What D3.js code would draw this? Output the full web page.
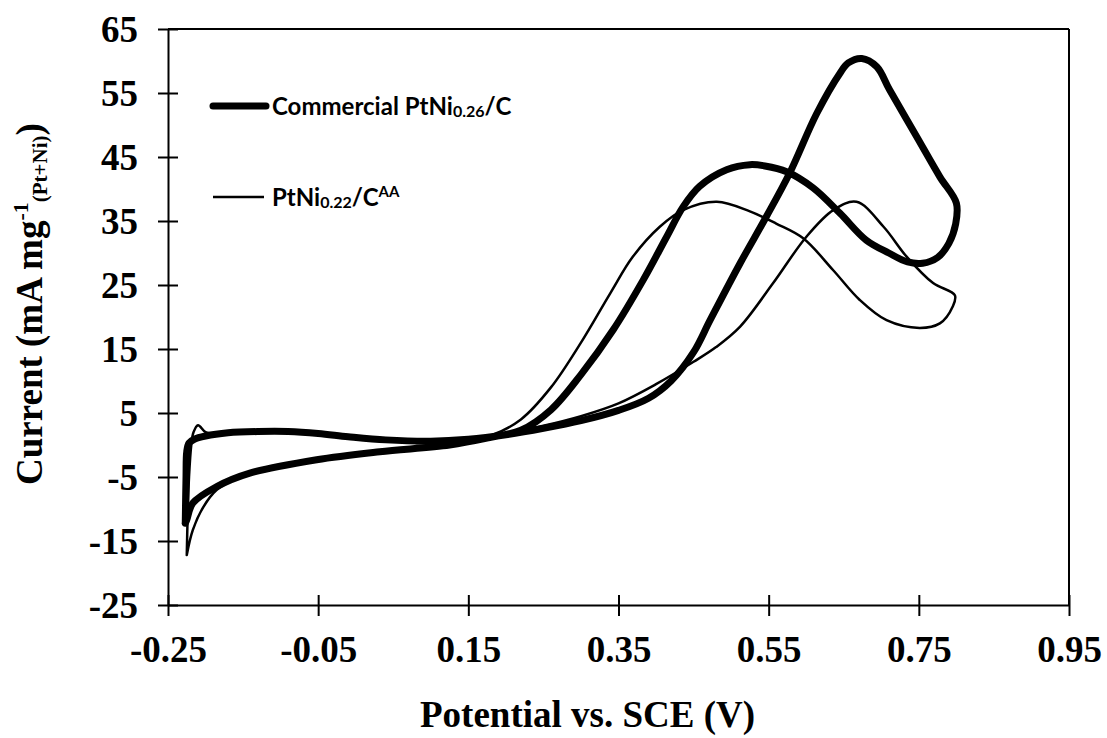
<!DOCTYPE html>
<html>
<head>
<meta charset="utf-8">
<script src="https://cdn.jsdelivr.net/npm/d3@7"></script>
<style>
  html, body { margin: 0; padding: 0; background: #fff; }
  svg { display: block; }
</style>
</head>
<body>
<svg id="chart" width="1107" height="738"></svg>
<script>
// Cyclic voltammograms: potential (V vs. SCE) against mass current (mA mg-1 of Pt+Ni)
const xTicks = [-0.25, -0.05, 0.15, 0.35, 0.55, 0.75, 0.95];
const yTicks = [-25, -15, -5, 5, 15, 25, 35, 45, 55, 65];
const xTickLabels = ["-0.25", "-0.05", "0.15", "0.35", "0.55", "0.75", "0.95"];
const yTickLabels = ["-25", "-15", "-5", "5", "15", "25", "35", "45", "55", "65"];

// Commercial PtNi0.26/C : forward sweep from the lower vertex, then reverse sweep back
const commercialPotential = [
  -0.227, -0.226, -0.225, -0.222, -0.215, -0.200, -0.170, -0.130, -0.090, -0.050,
  -0.010, 0.040, 0.100, 0.150, 0.200, 0.250, 0.300, 0.350, 0.390, 0.420,
  0.450, 0.472, 0.512, 0.547, 0.578, 0.614, 0.645, 0.656, 0.674, 0.694,
  0.711, 0.747, 0.778, 0.800, 0.799, 0.790, 0.775, 0.755, 0.735, 0.710,
  0.680, 0.645, 0.609, 0.574, 0.545, 0.525, 0.494, 0.458, 0.436, 0.414,
  0.383, 0.343, 0.300, 0.260, 0.220, 0.180, 0.125, 0.032, -0.052, -0.141,
  -0.185, -0.217, -0.225, -0.227
];
const commercialCurrent = [
  -12.2, -5.0, -1.0, 0.3, 0.9, 1.4, 1.9, 2.1, 2.1, 1.8,
  1.3, 0.8, 0.6, 0.9, 1.6, 2.6, 3.8, 5.4, 7.3, 10.0,
  14.5, 19.5, 28.4, 35.7, 42.5, 51.8, 58.1, 59.7, 60.4, 59.1,
  55.5, 48.2, 41.9, 37.8, 34.5, 31.5, 29.3, 28.4, 28.6, 30.0,
  32.0, 36.2, 40.2, 42.7, 43.6, 43.8, 43.0, 40.4, 37.2, 32.5,
  25.8, 18.0, 11.0, 5.5, 2.3, 1.2, 0.0, -1.05, -2.3, -4.4,
  -6.5, -9.1, -11.7, -12.2
];

// PtNi0.22/C-AA : same sweep order
const aaPotential = [
  -0.225, -0.224, -0.222, -0.219, -0.216, -0.210, -0.200, -0.190, -0.150, -0.100,
  -0.050, 0.000, 0.050, 0.100, 0.150, 0.200, 0.250, 0.300, 0.350, 0.400,
  0.450, 0.480, 0.512, 0.556, 0.600, 0.636, 0.667, 0.703, 0.734, 0.769,
  0.798, 0.795, 0.778, 0.751, 0.707, 0.671, 0.636, 0.596, 0.560, 0.525,
  0.481, 0.436, 0.405, 0.369, 0.339, 0.300, 0.260, 0.220, 0.180, 0.120,
  0.050, 0.000, -0.050, -0.100, -0.140, -0.163, -0.185, -0.203, -0.217, -0.225
];
const aaCurrent = [
  -17.2, -12.0, -5.0, 0.0, 2.0, 3.1, 2.0, 1.8, 2.0, 2.0,
  1.7, 1.2, 0.8, 0.7, 1.0, 1.8, 3.0, 4.5, 6.5, 9.5,
  13.0, 15.3, 18.5, 25.3, 32.5, 36.7, 38.0, 34.1, 29.4, 25.3,
  23.4, 21.6, 19.0, 18.3, 19.5, 22.7, 27.3, 32.3, 34.6, 36.5,
  38.0, 36.7, 34.1, 29.4, 23.7, 16.0, 9.0, 4.0, 1.5, 0.3,
  -0.8, -1.7, -2.4, -3.3, -4.6, -5.5, -7.0, -9.7, -13.3, -17.2
];

const svg = d3.select("#chart");
const serif = "'Liberation Serif', 'Times New Roman', serif";
const sans = "Lato, 'Open Sans', sans-serif";

const x = d3.scaleLinear().domain([-0.25, 0.95]).range([168, 1069]);
const y = d3.scaleLinear().domain([-25, 65]).range([605, 29]);

// frame: top and right edges
svg.append("line").attr("x1", x(-0.25)).attr("x2", x(0.95))
  .attr("y1", y(65)).attr("y2", y(65)).attr("stroke", "#000").attr("stroke-width", 2);
svg.append("line").attr("x1", x(0.95)).attr("x2", x(0.95))
  .attr("y1", y(65)).attr("y2", y(-25)).attr("stroke", "#000").attr("stroke-width", 2);

// x axis with ticks crossing the line
const xAxis = svg.append("g").attr("transform", `translate(0,${y(-25)})`)
  .call(d3.axisBottom(x).tickValues(xTicks).tickSizeOuter(0)
    .tickFormat((d, i) => xTickLabels[i]));
xAxis.select(".domain").attr("stroke-width", 2);
xAxis.selectAll(".tick line").attr("y1", -10).attr("y2", 11).attr("stroke-width", 2);
xAxis.selectAll(".tick text")
  .attr("y", 57).attr("dy", 0)
  .style("font-family", serif).style("font-weight", "bold").style("font-size", "37px")
  .attr("fill", "#000");

// y axis
const yAxis = svg.append("g").attr("transform", `translate(${x(-0.25)},0)`)
  .call(d3.axisLeft(y).tickValues(yTicks).tickSizeOuter(0)
    .tickFormat((d, i) => yTickLabels[i]));
yAxis.select(".domain").attr("stroke-width", 2);
yAxis.selectAll(".tick line").attr("x1", 10).attr("x2", -10).attr("stroke-width", 2);
yAxis.selectAll(".tick text")
  .attr("x", -30).attr("dy", "0.34em")
  .style("font-family", serif).style("font-weight", "bold").style("font-size", "37px")
  .attr("fill", "#000");

// axis titles
svg.append("text")
  .attr("x", 420).attr("y", 727)
  .style("font-family", serif).style("font-weight", "bold").style("font-size", "37px")
  .text("Potential vs. SCE (V)");

const yTitle = svg.append("text")
  .attr("transform", "translate(42,485) rotate(-90)")
  .style("font-family", serif).style("font-weight", "bold").style("font-size", "37px");
yTitle.append("tspan").text("Current (mA mg");
yTitle.append("tspan").attr("dy", -14.5).style("font-size", "22px").text("-1");
yTitle.append("tspan").attr("dy", 19).style("font-size", "21px").text("(Pt+Ni)");
yTitle.append("tspan").attr("dy", -4.5).text(")");

// data curves
const line = d3.line()
  .x(d => x(d[0])).y(d => y(d[1]))
  .curve(d3.curveCatmullRom.alpha(0.5));

const series = [
  { p: aaPotential, c: aaCurrent, w: 2.5 },
  { p: commercialPotential, c: commercialCurrent, w: 7 }
];
series.forEach(s => {
  svg.append("path")
    .datum(s.p.map((v, i) => [v, s.c[i]]))
    .attr("d", line)
    .attr("fill", "none").attr("stroke", "#000")
    .attr("stroke-width", s.w)
    .attr("stroke-linejoin", "round").attr("stroke-linecap", "round");
});

// legend
const legend = svg.append("g");
legend.append("line").attr("x1", 213).attr("x2", 266).attr("y1", 106).attr("y2", 106)
  .attr("stroke", "#000").attr("stroke-width", 7).attr("stroke-linecap", "round");
const t1 = legend.append("text").attr("x", 272).attr("y", 115)
  .style("font-family", sans).style("font-weight", "bold").style("font-size", "24px");
t1.append("tspan").text("Commercial PtNi");
t1.append("tspan").attr("dy", 2).style("font-size", "16px").text("0.26");
t1.append("tspan").attr("dy", -2).text("/C");

legend.append("line").attr("x1", 213).attr("x2", 264).attr("y1", 197).attr("y2", 197)
  .attr("stroke", "#000").attr("stroke-width", 2.5);
const t2 = legend.append("text").attr("x", 272).attr("y", 206)
  .style("font-family", sans).style("font-weight", "bold").style("font-size", "24px");
t2.append("tspan").text("PtNi");
t2.append("tspan").attr("dy", 2).style("font-size", "16px").text("0.22");
t2.append("tspan").attr("dy", -2).text("/C");
t2.append("tspan").attr("dy", -9).style("font-size", "15px").text("AA");
</script>
</body>
</html>
